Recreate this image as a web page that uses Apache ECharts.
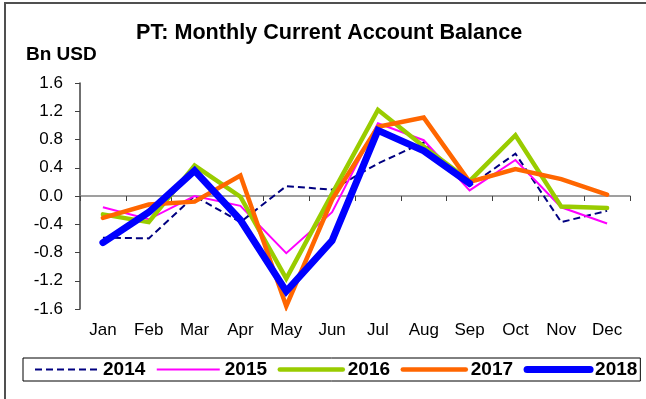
<!DOCTYPE html>
<html>
<head>
<meta charset="utf-8">
<script src="https://cdn.jsdelivr.net/npm/echarts@6/dist/echarts.min.js"></script>
<style>
  html, body { margin: 0; padding: 0; background: #fff; }
  #chart { width: 646px; height: 399px; }
</style>
</head>
<body>
<div id="chart"></div>
<script>
// Monthly current account balance, billions of USD
const months = ['Jan', 'Feb', 'Mar', 'Apr', 'May', 'Jun', 'Jul', 'Aug', 'Sep', 'Oct', 'Nov', 'Dec'];
const years = ['2014', '2015', '2016', '2017', '2018'];

const y2014 = [-0.59, -0.60, 0.00, -0.37, 0.14, 0.09, 0.46, 0.76, 0.14, 0.60, -0.37, -0.21];
const y2015 = [-0.16, -0.33, 0.00, -0.14, -0.81, -0.23, 1.03, 0.79, 0.08, 0.51, -0.16, -0.39];
const y2016 = [-0.26, -0.37, 0.43, -0.01, -1.17, 0.03, 1.22, 0.70, 0.21, 0.86, -0.15, -0.17];
const y2017 = [-0.31, -0.12, -0.08, 0.29, -1.56, -0.05, 0.98, 1.11, 0.20, 0.38, 0.24, 0.02];
const y2018 = [-0.66, -0.23, 0.36, -0.34, -1.35, -0.63, 0.93, 0.64, 0.18, null, null, null];

const yTicks = { min: -1.6, max: 1.6, step: 0.4 };

const font = "'Liberation Sans', Arial, sans-serif";

const styles = [
  { color: '#000080', width: 2, type: [7, 4], cap: 'butt' },
  { color: '#FF00FF', width: 2, type: 'solid', cap: 'butt' },
  { color: '#99CC00', width: 4.5, type: 'solid', cap: 'round' },
  { color: '#FF6600', width: 4.5, type: 'solid', cap: 'round' },
  { color: '#0000FF', width: 7, type: 'solid', cap: 'round' }
];
const values = [y2014, y2015, y2016, y2017, y2018];

const lineStyleOf = i => ({
  color: styles[i].color,
  width: styles[i].width,
  type: styles[i].type,
  join: 'miter',
  cap: styles[i].cap
});

const series = years.map((name, i) => ({
  name,
  type: 'line',
  xAxisIndex: 0,
  data: values[i],
  symbol: 'none',
  connectNulls: false,
  color: styles[i].color,
  lineStyle: lineStyleOf(i),
  emphasis: { disabled: true }
}));

// Legend entries show only the line sample, drawn like the series
const legendItems = years.map((name, i) => ({
  name,
  itemStyle: { opacity: 0 },
  lineStyle: lineStyleOf(i)
}));

const chart = echarts.init(document.getElementById('chart'), null, { renderer: 'canvas' });
chart.setOption({
  animation: false,
  backgroundColor: '#fff',
  textStyle: { fontFamily: font },
  graphic: [{
    type: 'rect',
    shape: { x: 5, y: 3, width: 700, height: 500 },
    style: { fill: 'none', stroke: '#505050', lineWidth: 2 },
    silent: true,
    z: -10
  }],
  title: [{
    text: 'PT: Monthly Current Account Balance',
    left: 131,
    top: 17,
    textStyle: { fontFamily: font, fontSize: 21.6, fontWeight: 'bold', color: '#000' }
  }, {
    text: 'Bn USD',
    left: 21,
    top: 40,
    textStyle: { fontFamily: font, fontSize: 19, fontWeight: 'bold', color: '#000' }
  }],
  legend: {
    data: legendItems,
    left: 23,
    top: 358,
    orient: 'horizontal',
    itemWidth: 63,
    itemHeight: 14,
    itemGap: 10.5,
    padding: [2, 3, 2, 11],
    borderColor: '#000',
    borderWidth: 1,
    selectedMode: false,
    textStyle: { fontFamily: font, fontSize: 19, fontWeight: 'bold', color: '#000' }
  },
  grid: { left: 80, right: 16, top: 83, bottom: 90, containLabel: false },
  xAxis: [{
    type: 'category',
    data: months,
    position: 'bottom',
    boundaryGap: true,
    axisLine: { show: false, onZero: false },
    axisTick: { show: false },
    axisLabel: { fontFamily: font, fontSize: 17, color: '#000', margin: 13 },
    splitLine: { show: false }
  }, {
    type: 'category',
    data: months,
    position: 'bottom',
    boundaryGap: true,
    axisLine: { show: true, onZero: true, lineStyle: { color: '#808080', width: 1.5 } },
    axisTick: { show: true, length: 5, lineStyle: { color: '#404040', width: 1 } },
    axisLabel: { show: false },
    splitLine: { show: false }
  }],
  yAxis: {
    type: 'value',
    min: yTicks.min,
    max: yTicks.max,
    interval: yTicks.step,
    axisLine: { show: true, lineStyle: { color: '#404040', width: 1.5 } },
    axisTick: { show: true, length: 5, lineStyle: { color: '#404040', width: 1 } },
    axisLabel: {
      fontFamily: font, fontSize: 17, color: '#000', margin: 17,
      formatter: v => v.toFixed(1)
    },
    splitLine: { show: false }
  },
  series
});
</script>
</body>
</html>
